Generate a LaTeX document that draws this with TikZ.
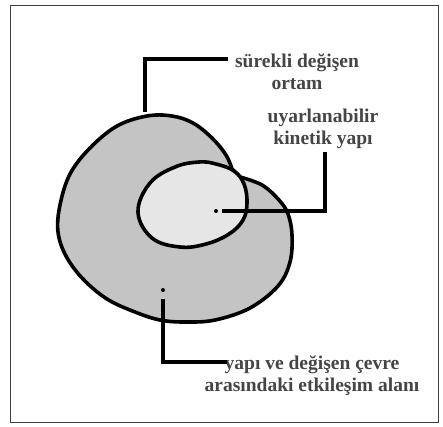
\documentclass[tikz,border=0pt]{standalone}
\usepackage{fontspec}
\setmainfont{Liberation Serif}
\definecolor{outergray}{HTML}{C4C4C4}
\definecolor{innergray}{HTML}{E6E6E6}
\definecolor{txtgray}{HTML}{454545}
\begin{document}
\begin{tikzpicture}[x=1pt,y=-1pt,
  blob/.style={draw=black,line width=3.6pt,line join=round},
  leader/.style={draw=black,line width=3.4pt},
  pin/.style={circle,fill=black,inner sep=0pt,minimum size=4pt},
  lbl/.style={text=txtgray,align=center,font=\fontsize{19.5}{22}\selectfont\bfseries,inner sep=0pt}]
\useasboundingbox (0,0) rectangle (443,426);
\draw[line width=1pt,draw=black!75] (10,5) rectangle (438,422);
% outer blob
\draw[blob,fill=outergray] plot[smooth,tension=0.6] coordinates {
  (240,177) (262,185) (279,200) (288,214) (292,235) (290,262) (278,286)
  (250,308) (215,320) (185,322) (160,320) (135,312) (107,299) (83,279)
  (66,256) (58,232) (60,205) (70,174) (90,148) (117,126) (147,116)
  (172,116) (193,123) (212,138) (226,155) (232,169)} -- cycle;
% inner ellipse
\draw[blob,fill=innergray] plot[smooth cycle,tension=0.65] coordinates {
  (138,212) (150,183) (175,167) (199,162) (216,164) (234,171) (244,184)
  (247,203) (243,220) (229,234) (206,244) (180,247) (152,238)};
% labels
\node[lbl] (t1) at (297,72) {sürekli değişen\\ortam};
\node[lbl] (t2) at (323,129) {uyarlanabilir\\kinetik yapı};
\node[lbl] (t3) at (312,376) {yapı ve değişen çevre\\arasındaki etkileşim alanı};
% points
\node[pin] (p1) at (145,59) {};
\coordinate (b1) at (145,112);
\node[pin] (p2) at (216,211) {};
\node[pin] (p3) at (163,290) {};
% leaders
\draw[leader] (b1) -- (p1.center) -- (228,59);
\draw[leader] (222,211) -- (325,211) -- (325,152);
\draw[leader] (163,299) -- (163,362) -- (227,362);
\end{tikzpicture}
\end{document}
